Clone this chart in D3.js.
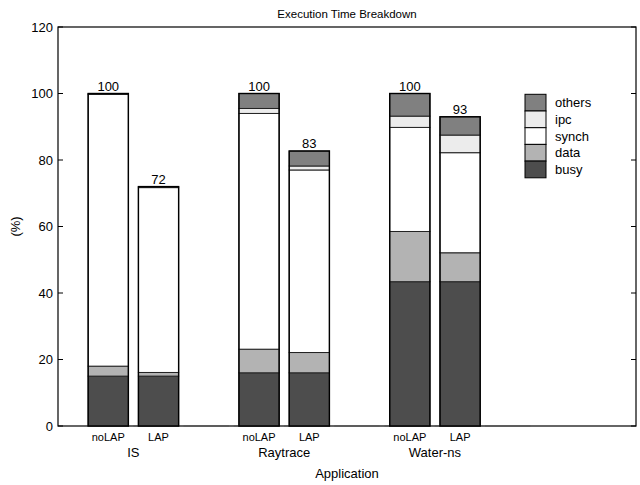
<!DOCTYPE html>
<html><head><meta charset="utf-8">
<script src="https://cdn.jsdelivr.net/npm/d3@7"></script>
<style>body{margin:0;background:#fff}text{font-family:"Liberation Sans",Arial,sans-serif}</style>
</head><body><svg id="c" width="640" height="485"></svg>
<script>
// slot labels (9 slots: 3 groups of noLAP, LAP, empty)
const configs = ["noLAP","LAP","","noLAP","LAP","","noLAP","LAP",""];
const apps = ["IS","Raytrace","Water-ns"];
const seriesNames = ["busy","data","synch","ipc","others"];
const busy   = [15, 15, 0, 16, 16, 0, 43.4, 43.4, 0];
const data   = [3, 1.1, 0, 7.1, 6.1, 0, 15.1, 8.7, 0];
const synch  = [81.7, 55.6, 0, 70.9, 54.9, 0, 31.3, 30.1, 0];
const ipc    = [0.3, 0.3, 0, 1.5, 1.2, 0, 3.4, 5.3, 0];
const others = [0, 0, 0, 4.5, 4.5, 0, 6.8, 5.5, 0];
const totals = ["100","72","","100","83","","100","93",""];
const yTicks = [0,20,40,60,80,100,120];
const colors = {busy:"#4d4d4d", data:"#b3b3b3", synch:"#ffffff", ipc:"#ececec", others:"#808080"};

const svg = d3.select("#c");
const L=58, R=636, T=27, B=426;
const x = d3.scaleLinear().domain([0,11.5]).range([L,R]);
const y = d3.scaleLinear().domain([0,120]).range([B,T]);
const bw = x(0.8)-x(0);

const rows = configs.map((c,i)=>({slot:i+1,busy:busy[i],data:data[i],synch:synch[i],ipc:ipc[i],others:others[i]}));
const stack = d3.stack().keys(seriesNames)(rows);

// axis box
svg.append("rect").attr("x",L).attr("y",T).attr("width",R-L).attr("height",B-T)
  .attr("fill","none").attr("stroke","#000").attr("stroke-width",1.2);

// bars
stack.forEach(layer=>{
  svg.append("g").selectAll("rect").data(layer.filter(d=>d[1]-d[0]>0)).join("rect")
    .attr("x",d=>x(d.data.slot)-bw/2).attr("width",bw)
    .attr("y",d=>y(d[1])).attr("height",d=>y(d[0])-y(d[1]))
    .attr("fill",colors[layer.key]).attr("stroke","#222").attr("stroke-width",1);
});
// zero-height bars on baseline
svg.append("g").selectAll("line").data(rows).join("line")
  .attr("x1",d=>x(d.slot)-bw/2-5.2).attr("x2",d=>x(d.slot)+bw/2)
  .attr("y1",B).attr("y2",B).attr("stroke","#555").attr("stroke-width",1.2)
  .filter((d,i)=>i===0).attr("x1",d=>x(d.slot)-bw/2);
// redraw real bar outlines on top
rows.forEach((d,i)=>{
  const tot = busy[i]+data[i]+synch[i]+ipc[i]+others[i];
  if(tot>0){
    svg.append("rect").attr("x",x(d.slot)-bw/2).attr("width",bw).attr("y",y(tot)).attr("height",B-y(tot))
      .attr("fill","none").attr("stroke","#000").attr("stroke-width",1.4);
    svg.append("text").attr("x",x(d.slot)).attr("y",y(tot)-3).attr("text-anchor","middle")
      .attr("font-size",13).text(totals[i]);
  }
});

// y ticks
const yg = svg.append("g");
yTicks.forEach(t=>{
  yg.append("line").attr("x1",L).attr("x2",L+5).attr("y1",y(t)).attr("y2",y(t)).attr("stroke","#000");
  yg.append("line").attr("x1",R-5).attr("x2",R).attr("y1",y(t)).attr("y2",y(t)).attr("stroke","#000");
  yg.append("text").attr("x",L-5).attr("y",y(t)+4.5).attr("text-anchor","end").attr("font-size",13).text(t);
});

// x labels
rows.forEach((d,i)=>{
  if(configs[i]) svg.append("text").attr("x",x(d.slot)).attr("y",B+15).attr("text-anchor","middle")
    .attr("font-size",11).text(configs[i]);
});
apps.forEach((a,k)=>{
  svg.append("text").attr("x",(x(3*k+1)+x(3*k+2))/2).attr("y",B+31).attr("text-anchor","middle")
    .attr("font-size",13).text(a);
});
svg.append("text").attr("x",(L+R)/2).attr("y",478).attr("text-anchor","middle").attr("font-size",13).text("Application");
svg.append("text").attr("x",(L+R)/2).attr("y",18).attr("text-anchor","middle").attr("font-size",11.5).text("Execution Time Breakdown");
svg.append("text").attr("transform",`translate(20,${(T+B)/2}) rotate(-90)`).attr("text-anchor","middle")
  .attr("font-size",13).text("(%)");

// legend
const legKeys = seriesNames.slice().reverse();
const lg = svg.append("g");
legKeys.forEach((k,i)=>{
  const yy = 94.3 + i*16.7;
  lg.append("rect").attr("x",525).attr("y",yy).attr("width",21).attr("height",16.7)
    .attr("fill",colors[k]).attr("stroke","#000").attr("stroke-width",1);
  lg.append("text").attr("x",555).attr("y",yy+13).attr("font-size",13).text(k);
});
</script></body></html>
